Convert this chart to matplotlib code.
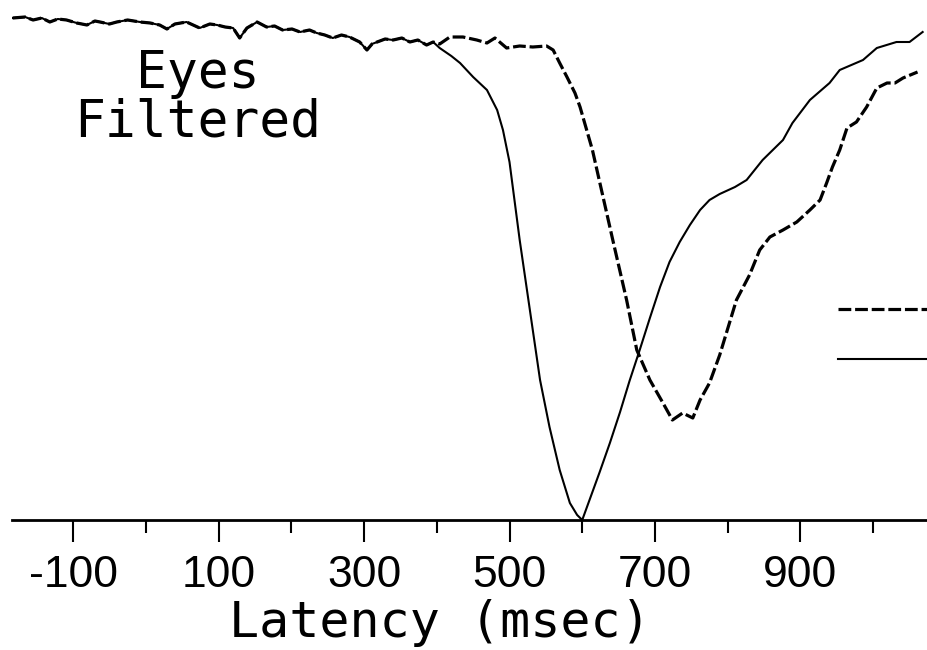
import numpy as np
from matplotlib import pyplot as plt
from matplotlib.lines import Line2D

# latency (msec) and amplitude (% of peak) of the early, common part of both traces
base_t = [-183, -166, -155, -143, -132, -121, -109, -95, -81, -70, -63, -50, -40, -25, -8,
          6, 19, 29, 40, 56, 74, 88, 98, 109, 120, 129, 139, 153, 166, 177, 188, 201, 212,
          225, 235, 246, 257, 269, 280, 294, 304, 311, 318, 329, 340, 352, 363, 374, 386, 395]
base_v = [0.4, 0.6, 0, 0.4, -0.4, 0.2, 0, -0.6, -1, -0.2, -0.4, -0.8, -0.4, 0, -0.4,
          -0.6, -1, -1.8, -0.8, -0.4, -1.6, -0.8, -1, -1.4, -1.6, -3.6, -1.6, -0.4, -1.4, -1.2, -2, -1.8, -2.4,
          -2, -2.6, -3, -3.6, -3, -3.4, -4.4, -6, -4.8, -4.4, -3.8, -4, -3.6, -4.4, -4, -5, -4.4]

# solid trace after it leaves the baseline
solid_t = [404, 420, 432, 450, 469, 483, 491, 500, 514, 528, 542, 555, 569, 583, 593, 600,
           610, 624, 638, 652, 665, 679, 693, 707, 720, 734, 748, 762, 775, 789, 810, 826,
           848, 876, 889, 913, 940, 954, 986, 1005, 1032, 1050, 1068]
solid_v = [-5.6, -7.2, -8.6, -11.4, -14, -18, -22, -28.4, -44, -58, -72, -81.4, -90, -96.6, -99, -100,
           -96, -90.4, -84.6, -78.4, -72.2, -66, -59.6, -53.4, -48.4, -44.4, -41, -38, -36, -34.8, -33.4, -32,
           -28, -24, -20.6, -16, -12.6, -10, -8, -5.6, -4.4, -4.4, -2.4]

# dashed trace after it leaves the baseline
dash_t = [404, 418, 436, 455, 469, 480, 496, 514, 532, 551, 560, 569, 579, 590, 597,
          614, 628, 642, 661, 675, 693, 711, 724, 738, 752, 762, 775, 789, 812, 830, 844,
          858, 876, 895, 913, 927, 936, 944, 954, 964, 977, 991, 1005, 1019, 1030, 1041, 1061]
dash_v = [-4.8, -3.4, -3.4, -4, -4.6, -3.6, -5.6, -5.2, -5.4, -5.2, -6, -8.6, -11.4, -14.6, -17.4,
          -26, -35, -44, -56, -66, -72, -76.6, -80, -78.6, -79.6, -76, -72.6, -67, -56, -51, -46,
          -43.4, -42, -40.4, -38, -36, -32.6, -29.4, -26, -21.6, -20.4, -17.4, -13.6, -12.6, -12.6, -11.6, -10.4]

major_ticks = [-100, 100, 300, 500, 700, 900]
tick_labels = ['-100', '100', '300', '500', '700', '900']
minor_ticks = [0, 200, 400, 600, 800, 1000]

fig = plt.figure(figsize=(9.27, 6.5), dpi=100)
ax = fig.add_axes([12 / 927, 130 / 650, 915 / 927, 520 / 650])

ax.plot(base_t + solid_t, base_v + solid_v, color='black', lw=1.5)
ax.plot(base_t + dash_t, base_v + dash_v, color='black', lw=2.3, ls=(0, (4, 1.2)))

ax.set_xlim(-184, 1074)
ax.set_ylim(-100, 4)

for side in ['left', 'top', 'right']:
    ax.spines[side].set_visible(False)
ax.spines['bottom'].set_linewidth(2)
ax.set_yticks([])

ax.set_xticks(major_ticks)
ax.set_xticklabels(tick_labels, family='Liberation Sans', fontsize=32)
ax.set_xticks(minor_ticks, minor=True)
ax.tick_params(axis='x', which='major', length=16, width=1.5, pad=9)
ax.tick_params(axis='x', which='minor', length=9, width=1.5)

ax.set_xlabel('Latency (msec)', family='DejaVu Sans Mono', fontsize=36)
ax.xaxis.label.set_va('baseline')
ax.xaxis.set_label_coords((440 - 12) / 915, -(637 - 520) / 520)

ax.text(0.203, 0.831, 'Eyes', transform=ax.transAxes, ha='center', va='baseline',
        family='DejaVu Sans Mono', fontsize=37)
ax.text(0.203, 0.738, 'Filtered', transform=ax.transAxes, ha='center', va='baseline',
        family='DejaVu Sans Mono', fontsize=37)

# key at the right edge, its labels fall outside the page
handles = [Line2D([], [], color='black', lw=2.3, ls=(0, (4, 1.2))),
           Line2D([], [], color='black', lw=1.5)]
ax.legend(handles, ['', ''], loc='upper left', bbox_to_anchor=((838 - 12) / 915, (520 - 303) / 520),
          frameon=False, fontsize=10, handlelength=9, handleheight=0.7, labelspacing=2.6,
          borderpad=0, borderaxespad=0, handletextpad=0)

fig.savefig('out.png', dpi=100)
